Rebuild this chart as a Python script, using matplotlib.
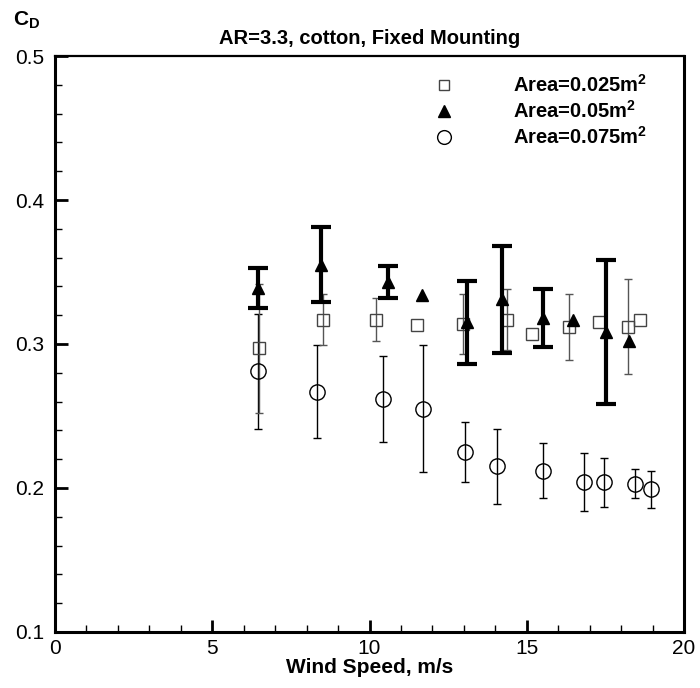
import numpy as np
import matplotlib
matplotlib.use('Agg')
import matplotlib.pyplot as plt
from matplotlib.ticker import MultipleLocator

plt.rcParams['font.family'] = ['Liberation Sans', 'DejaVu Sans']
plt.rcParams['mathtext.fontset'] = 'custom'
plt.rcParams['mathtext.rm'] = 'Liberation Sans'
plt.rcParams['mathtext.bf'] = 'Liberation Sans:bold'

nan = np.nan

# === Area = 0.025 m^2 (squares) ===
x_sq = [6.49, 8.53, 10.21, 11.50, 12.96, 14.36, 15.18, 16.34, 17.30, 18.21, 18.59]
cd_sq = [0.297, 0.317, 0.317, 0.313, 0.314, 0.317, 0.307, 0.312, 0.315, 0.312, 0.317]
err_sq = [0.045, 0.018, 0.015, nan, 0.021, 0.021, nan, 0.023, nan, 0.033, nan]

# === Area = 0.05 m^2 (triangles) ===
x_tr = [6.46, 8.45, 10.58, 11.68, 13.09, 14.22, 15.51, 16.48, 17.53, 18.25]
cd_tr = [0.339, 0.355, 0.343, 0.334, 0.315, 0.331, 0.318, 0.317, 0.308, 0.302]
err_tr = [0.014, 0.026, 0.011, nan, 0.029, 0.037, 0.020, nan, 0.050, nan]

# === Area = 0.075 m^2 (circles) ===
x_ci = [6.46, 8.34, 10.44, 11.69, 13.04, 14.06, 15.53, 16.83, 17.46, 18.44, 18.95]
cd_ci = [0.281, 0.267, 0.262, 0.255, 0.225, 0.215, 0.212, 0.204, 0.204, 0.203, 0.199]
err_ci = [0.040, 0.032, 0.030, 0.044, 0.021, 0.026, 0.019, 0.020, 0.017, 0.010, 0.013]

labels = [r'Area=0.025m$^\mathbf{2}$', r'Area=0.05m$^\mathbf{2}$', r'Area=0.075m$^\mathbf{2}$']

fig = plt.figure(figsize=(7, 6.88), dpi=100)
ax = fig.add_axes([0.0786, 0.0814, 0.8986, 0.8372])

# error bars
ax.errorbar(x_ci, cd_ci, yerr=err_ci, fmt='none', ecolor='black', elinewidth=1.0,
            capsize=3.2, capthick=1.0, zorder=2)
ax.errorbar(x_sq, cd_sq, yerr=err_sq, fmt='none', ecolor='#555555', elinewidth=1.0,
            capsize=3.2, capthick=1.0, zorder=3)
ax.errorbar(x_tr, cd_tr, yerr=err_tr, fmt='none', ecolor='black', elinewidth=3.0,
            capsize=7.4, capthick=3.0, zorder=5)

# markers
ax.plot(x_sq, cd_sq, 's', ms=8, mfc='none', mec='#444444', mew=1.0, label=labels[0], zorder=4)
ax.plot(x_tr, cd_tr, '^', ms=9, color='black', label=labels[1], zorder=6)
ax.plot(x_ci, cd_ci, 'o', ms=11, mfc='none', mec='black', mew=1.0, label=labels[2], zorder=4)

ax.set_xlim(0, 20)
ax.set_ylim(0.1, 0.5)
ax.xaxis.set_major_locator(MultipleLocator(5))
ax.xaxis.set_minor_locator(MultipleLocator(1))
ax.yaxis.set_major_locator(MultipleLocator(0.1))
ax.yaxis.set_minor_locator(MultipleLocator(0.02))
ax.yaxis.set_major_formatter(plt.FormatStrFormatter('%.1f'))
ax.tick_params(which='both', direction='in', top=False, right=False, labelsize=15)
ax.tick_params(axis='x', pad=5)
ax.tick_params(axis='y', pad=8)
ax.tick_params(which='major', length=9, width=2)
ax.tick_params(which='minor', length=5, width=1)
for s in ax.spines.values():
    s.set_linewidth(2.2)
ax.spines['top'].set_linewidth(1.6)

ax.set_xlabel('Wind Speed, m/s', fontsize=15, fontweight='bold', labelpad=0)
ax.set_title('AR=3.3, cotton, Fixed Mounting', fontsize=14.5, fontweight='bold', pad=9)
fig.text(13 / 700, 1 - 20 / 688, r'$\mathbf{C}_{\mathbf{D}}$', fontsize=15, ha='left', va='center')

ax.legend(loc='upper left', bbox_to_anchor=(0.558, 1.0), frameon=False,
          prop={'weight': 'bold', 'size': 14.5}, handletextpad=2.4, labelspacing=0.2,
          handlelength=2.0, markerscale=0.9)

plt.savefig('out.png', dpi=100)
